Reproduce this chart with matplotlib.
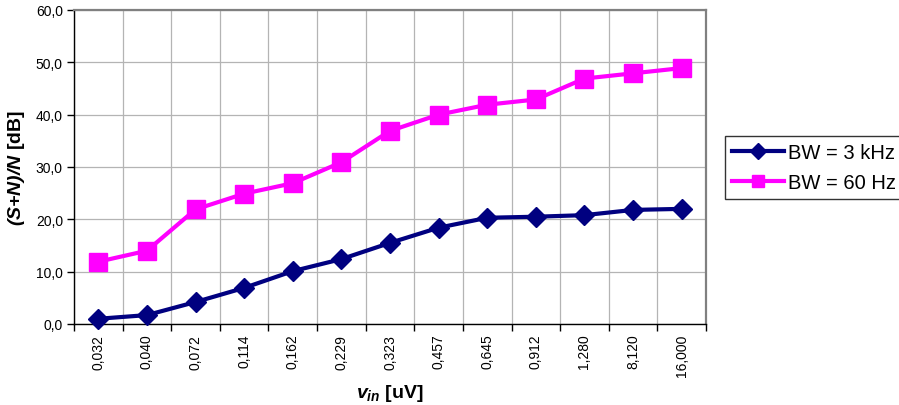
import matplotlib.pyplot as plt
import numpy as np

# data
vin_labels = ["0,032", "0,040", "0,072", "0,114", "0,162", "0,229", "0,323",
              "0,457", "0,645", "0,912", "1,280", "8,120", "16,000"]
bw_3khz = [1.0, 1.7, 4.2, 6.9, 10.1, 12.4, 15.5, 18.4, 20.3, 20.5, 20.8, 21.8, 22.0]
bw_60hz = [11.9, 14.0, 21.9, 24.9, 26.9, 30.9, 36.9, 40.0, 41.9, 42.9, 46.9, 47.9, 48.9]
series_names = ["BW = 3 kHz", "BW = 60 Hz"]
yticks = [0, 10, 20, 30, 40, 50, 60]

plt.rcParams['font.family'] = ['Liberation Sans', 'DejaVu Sans']
plt.rcParams['mathtext.fontset'] = 'custom'
plt.rcParams['mathtext.it'] = 'Liberation Sans:italic:bold'
plt.rcParams['mathtext.rm'] = 'Liberation Sans:italic:bold'
plt.rcParams['mathtext.bf'] = 'Liberation Sans:bold'

fig = plt.figure(figsize=(8.99, 4.06), dpi=100)
ax = fig.add_axes([74/899, 81/406, 632/899, 314/406])

x = np.arange(len(vin_labels))
ax.plot(x, bw_3khz, color='#000080', lw=3, marker='D', ms=10,
        label=series_names[0], clip_on=False, zorder=4)
ax.plot(x, bw_60hz, color='#FF00FF', lw=3, marker='s', ms=13,
        label=series_names[1], clip_on=False, zorder=3)

ax.set_xlim(-0.5, len(vin_labels) - 0.5)
ax.set_ylim(0, 60)
ax.set_yticks(yticks)
ax.set_yticklabels([f"{v:.1f}".replace(".", ",") for v in yticks], fontsize=10)
ax.set_xticks(x)
ax.set_xticklabels(vin_labels, rotation=90, fontsize=10)
ax.set_xticks(np.arange(-0.5, len(vin_labels)), minor=True)
ax.tick_params(axis='x', which='major', length=0, pad=7)
ax.tick_params(axis='x', which='minor', length=5, width=1, direction='out')
ax.tick_params(axis='y', length=5, width=1, direction='out', pad=3)

ax.grid(True, axis='y', which='major', color='#b4b4b4', lw=0.9)
ax.grid(True, axis='x', which='minor', color='#b4b4b4', lw=0.9)
ax.set_axisbelow(True)

for s in ['top', 'right']:
    ax.spines[s].set_color('#808080')
    ax.spines[s].set_linewidth(1.6)
for s in ['left', 'bottom']:
    ax.spines[s].set_color('black')
    ax.spines[s].set_linewidth(1.0)

ax.set_ylabel(r"$(S{+}N)/N$ [dB]", fontsize=14, fontweight='bold', labelpad=6)
ax.set_xlabel(r"$v_{in}$ [uV]", fontsize=14, fontweight='bold', labelpad=4)

leg = fig.legend(loc='upper left', bbox_to_anchor=(725/899, 1 - 137/406),
                 fontsize=14.5, frameon=True, fancybox=False, shadow=False,
                 handlelength=2.6, borderpad=0.35, labelspacing=0.55,
                 handletextpad=0.2, borderaxespad=0)
leg.get_frame().set_edgecolor('black')
leg.get_frame().set_linewidth(1.0)
for h in leg.legend_handles:
    h.set_markersize(8)

fig.savefig("out.png", dpi=100)
